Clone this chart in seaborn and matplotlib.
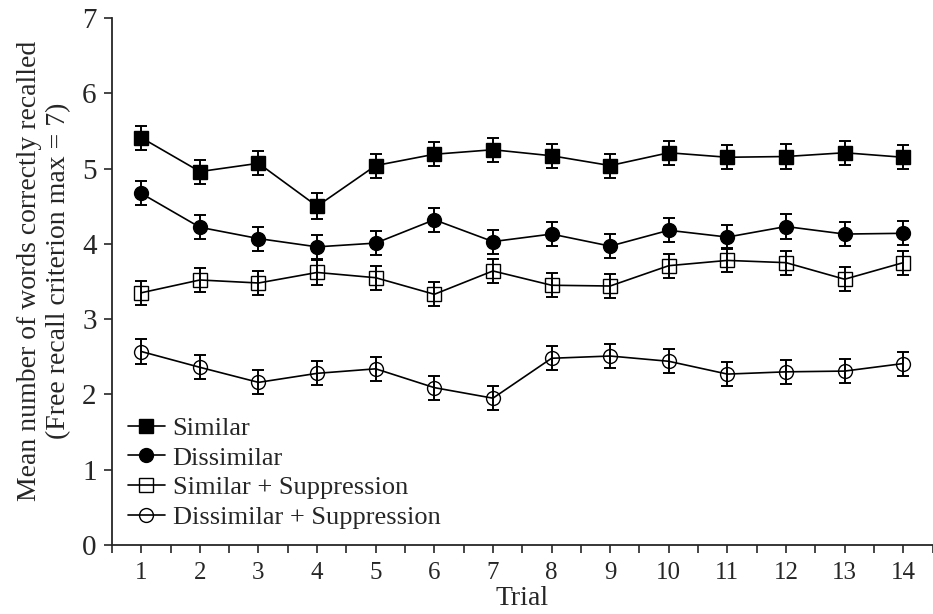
import numpy as np
import pandas as pd
import seaborn as sns
import matplotlib.pyplot as plt
from matplotlib.ticker import MultipleLocator

# Data
trials = list(range(1, 15))
similar = [5.41, 4.96, 5.07, 4.50, 5.04, 5.19, 5.25, 5.17, 5.04, 5.21, 5.15, 5.16, 5.21, 5.15]
dissimilar = [4.67, 4.22, 4.07, 3.96, 4.01, 4.32, 4.03, 4.13, 3.97, 4.18, 4.09, 4.23, 4.13, 4.14]
similar_supp = [3.35, 3.52, 3.48, 3.62, 3.55, 3.33, 3.64, 3.45, 3.44, 3.71, 3.78, 3.75, 3.53, 3.75]
dissimilar_supp = [2.57, 2.36, 2.16, 2.28, 2.34, 2.09, 1.95, 2.48, 2.51, 2.44, 2.27, 2.30, 2.31, 2.41]
err_similar = [0.16, 0.16, 0.16, 0.17, 0.16, 0.16, 0.16, 0.16, 0.16, 0.16, 0.16, 0.16, 0.16, 0.16]
err_dissimilar = [0.16, 0.16, 0.16, 0.16, 0.16, 0.16, 0.16, 0.16, 0.16, 0.16, 0.16, 0.16, 0.16, 0.16]
err_similar_supp = [0.16, 0.16, 0.16, 0.17, 0.16, 0.16, 0.16, 0.16, 0.16, 0.16, 0.16, 0.16, 0.16, 0.16]
err_dissimilar_supp = [0.17, 0.16, 0.16, 0.16, 0.16, 0.16, 0.16, 0.16, 0.16, 0.16, 0.16, 0.16, 0.16, 0.16]

labels = ['Similar', 'Dissimilar', 'Similar + Suppression', 'Dissimilar + Suppression']
series = [similar, dissimilar, similar_supp, dissimilar_supp]
errors = [err_similar, err_dissimilar, err_similar_supp, err_dissimilar_supp]
markers = ['s', 'o', 's', 'o']
filled = [True, True, False, False]

sns.set_style('ticks')
plt.rcParams['font.family'] = ['Liberation Serif', 'DejaVu Serif']

fig = plt.figure(figsize=(9.33, 6.14), dpi=100)
ax = fig.add_axes([0.120, 0.1124, 0.8795, 0.8583])

for lab, vals, err, mk, fill in zip(labels, series, errors, markers, filled):
    df = pd.DataFrame({'Trial': trials, 'Score': vals})
    ax.errorbar(trials, vals, yerr=err, fmt='none', ecolor='black',
                elinewidth=1.4, capsize=4, capthick=1.4, zorder=2)
    sns.lineplot(data=df, x='Trial', y='Score', ax=ax, color='black',
                 linewidth=1.2, marker=mk, markersize=10.5 if mk == 's' else 10,
                 markerfacecolor='black' if fill else 'none',
                 markeredgecolor='black', markeredgewidth=1.0,
                 label=lab, zorder=3)

ax.set_xlim(0.5, 14.5)
ax.set_ylim(0, 7)
ax.set_xticks(trials)
ax.xaxis.set_minor_locator(MultipleLocator(0.5))
ax.set_yticks(range(0, 8))
ax.tick_params(axis='x', which='both', direction='out', length=6, width=1.2, labelsize=18, pad=6)
ax.tick_params(axis='y', which='major', direction='out', length=6, width=1.2, labelsize=21, pad=5)
for s in ['left', 'bottom']:
    ax.spines[s].set_linewidth(1.3)
sns.despine(ax=ax)

ax.set_xlabel('Trial', fontsize=20, labelpad=2)
ax.set_ylabel('Mean number of words correctly recalled\n(Free recall criterion max = 7)',
              fontsize=20, linespacing=1.2)
ax.yaxis.set_label_coords(-0.05, 0.52)

leg = ax.legend(loc='lower left', bbox_to_anchor=(0.0, 0.0), frameon=False,
                fontsize=19, handlelength=1.4, handletextpad=0.3,
                labelspacing=0.24, borderaxespad=0.2)

fig.savefig('out.png', dpi=100)
